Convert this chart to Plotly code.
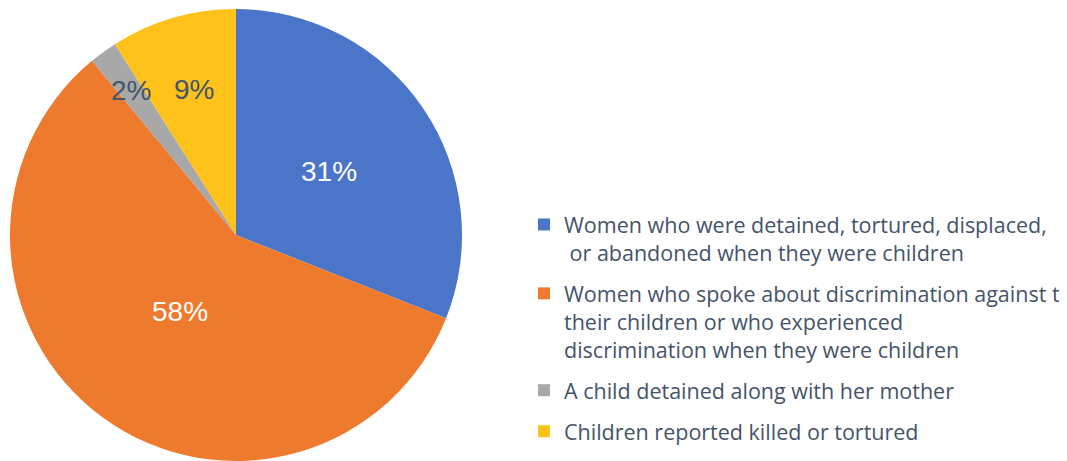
import math
import plotly.graph_objects as go

categories = [
    "Women who were detained, tortured, displaced,<br>\u00a0or abandoned when they were children",
    "Women who spoke about discrimination against the<br>their children or who experienced<br>discrimination when they were children",
    "A child detained along with her mother",
    "Children reported killed or tortured",
]
values = [31, 58, 2, 9]
label_texts = ["31%", "58%", "2%", "9%"]

colors = ["#4A75C8", "#EE7A2E", "#A8A8A8", "#FFC21A"]
label_colors = ["white", "white", "#44546A", "#44546A"]
label_radius = [0.50, 0.42, 0.79, 0.67]

# page has an 8px body margin, so the figure is sized to fit inside the window
W, H = 1059, 453
mt, mb = 1, 0
ph = H - mt - mb
R = ph / 2
cx = 228
cy = mt + R

fig = go.Figure()
fig.add_trace(go.Pie(
    labels=categories,
    values=values,
    sort=False,
    direction="clockwise",
    rotation=0,
    marker=dict(colors=colors, line=dict(width=0)),
    textinfo="none",
    hoverinfo="label+percent",
    showlegend=False,
    domain=dict(x=[(cx - R) / W, (cx + R) / W], y=[0, 1]),
))

# legend entries (one group each so the groups get a small gap)
for i, (name, col) in enumerate(zip(categories, colors)):
    fig.add_trace(go.Scatter(
        x=[None], y=[None], mode="markers", name=name,
        marker=dict(symbol="square", size=12, color=col),
        legendgroup=f"g{i}", showlegend=True, hoverinfo="skip",
    ))

total = sum(values)
cum = 0
annotations = []
for v, t, c, f in zip(values, label_texts, label_colors, label_radius):
    th = 2 * math.pi * (cum + v / 2) / total
    cum += v
    px = cx + f * R * math.sin(th)
    py = cy - f * R * math.cos(th)
    annotations.append(dict(
        x=px / W, y=(H - mb - py) / ph, xref="paper", yref="paper",
        text=t, showarrow=False,
        font=dict(family="Liberation Sans, Arial", size=28, color=c),
        xanchor="center", yanchor="middle",
    ))

legend_top_px = 196
fig.update_layout(
    width=W, height=H,
    margin=dict(l=0, r=0, t=mt, b=mb, autoexpand=False),
    paper_bgcolor="white",
    plot_bgcolor="white",
    xaxis=dict(visible=False),
    yaxis=dict(visible=False),
    showlegend=True,
    legend=dict(
        x=516 / W, xanchor="left",
        y=1 - (legend_top_px - mt) / ph, yanchor="top",
        valign="top",
        font=dict(family="Open Sans", size=21.5, color="#44546A"),
        bgcolor="rgba(0,0,0,0)",
        tracegroupgap=10,
        itemclick=False, itemdoubleclick=False,
    ),
    annotations=annotations,
)

fig.write_html("out.html")
